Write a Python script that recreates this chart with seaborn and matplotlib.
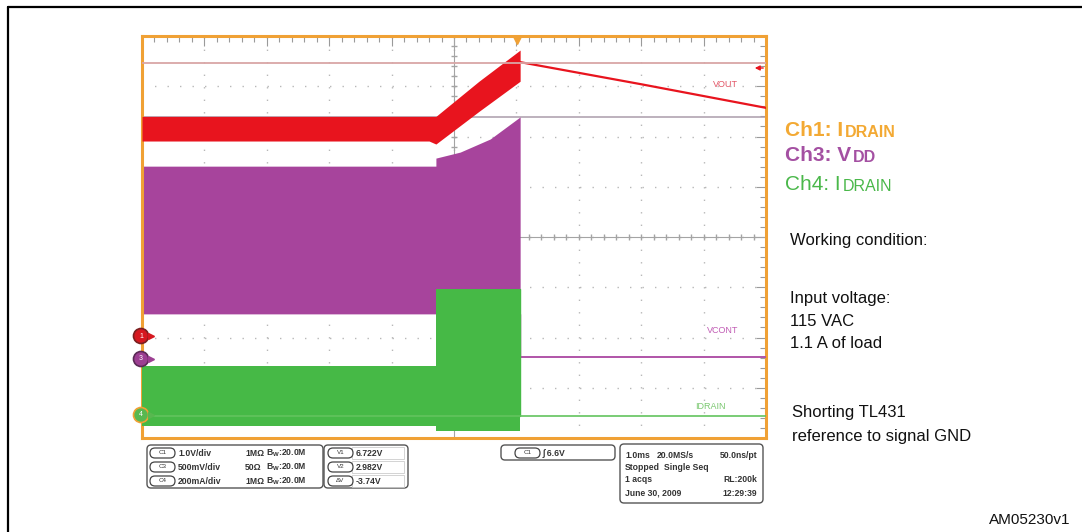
import numpy as np
import matplotlib.pyplot as plt
import seaborn as sns
from matplotlib.patches import FancyBboxPatch, Circle, Rectangle

W, H = 1082, 532

# traces in screen divisions (x: 10 div of 1.0 ms, y: 8 div centred on 0)
red_x = [0.0, 4.60, 4.71, 5.40, 6.06]
red_top = [2.40, 2.40, 2.40, 3.10, 3.72]
red_bot = [1.91, 1.91, 1.85, 2.50, 3.10]
vout_x = [6.06, 8.0, 10.0]
vout_y = [3.48, 3.04, 2.57]

vdd_x = [0.0, 4.71, 4.71, 5.10, 5.58, 6.06]
vdd_top = [1.41, 1.41, 1.57, 1.69, 1.95, 2.39]
vdd_bot = [-1.53, -1.53, -1.53, -1.53, -1.53, -1.53]
vcont_x = [6.06, 10.0]
vcont_y = [-2.39, -2.39]

id_x = [0.0, 4.71, 4.71, 6.06]
id_top = [-2.57, -2.57, -1.03, -1.03]
id_bot = [-3.76, -3.76, -3.86, -3.86]
idrain_x = [0.0, 6.06, 10.0]
idrain_y = [-3.56, -3.56, -3.56]

cursor_y = [3.46, 2.39]

red = '#e8141e'
purple = '#a7449c'
green = '#46b946'
orange = '#f0a135'

sns.set_style('white')
plt.rcParams['font.family'] = ['Liberation Sans', 'DejaVu Sans']

fig = plt.figure(figsize=(W / 100, H / 100), dpi=100)
ax = fig.add_axes([142 / W, 1 - 438 / H, 624 / W, 402 / H])

ax.fill_between(vdd_x, vdd_bot, vdd_top, color=purple, lw=0, zorder=2)
ax.fill_between(red_x, red_bot, red_top, color=red, lw=0, zorder=3)
ax.fill_between(id_x, id_bot, id_top, color=green, lw=0, zorder=4)
sns.lineplot(x=vout_x, y=vout_y, color=red, lw=1.6, ax=ax, zorder=3)
sns.lineplot(x=vcont_x, y=vcont_y, color='#b054a8', lw=1.4, ax=ax, zorder=3)
sns.lineplot(x=idrain_x, y=idrain_y, color='#62c35e', lw=1.2, ax=ax, zorder=5)
ax.plot([vcont_x[0], vcont_x[0]], [vcont_y[0], vdd_bot[-1]], color=purple, lw=1, zorder=2)
ax.plot([idrain_x[1], idrain_x[1]], [id_top[-1], idrain_y[1]], color=green, lw=1, zorder=4)

ax.axhline(cursor_y[0], color='#d9a6a6', lw=1.3, zorder=6)
ax.axhline(cursor_y[1], color='#ab9cab', lw=1.1, zorder=1.5)

ax.set_xlim(0, 10)
ax.set_ylim(-4, 4)
ax.set_xticks(np.arange(0, 11, 1))
ax.set_yticks(np.arange(-4, 5, 1))
ax.set_xticks(np.arange(0, 10.01, 0.2), minor=True)
ax.set_yticks(np.arange(-4, 4.01, 0.2), minor=True)
ax.set_xticklabels([])
ax.set_yticklabels([])
ax.tick_params(which='both', direction='in', top=True, right=True, color='#9a9a9a', width=0.8)
ax.tick_params(which='major', length=7)
ax.tick_params(which='minor', length=4)
ax.grid(True, which='major', color='#b8b8b8', lw=1.0, ls=(0, (1, 8)), zorder=1)
ax.axvline(5, color='#a4a4a4', lw=0.8, zorder=1)
ax.axhline(0, color='#a4a4a4', lw=0.8, zorder=1)
ax.plot(np.arange(0, 10.01, 0.2), np.zeros(51), ls='none', marker='|', ms=5, color='#a4a4a4', zorder=1)
ax.plot(np.full(41, 5.0), np.arange(-4, 4.01, 0.2), ls='none', marker='_', ms=5, color='#a4a4a4', zorder=1)
for s in ax.spines.values():
    s.set_color(orange)
    s.set_linewidth(2.2)

ax.text(9.15, 3.04, 'VOUT', color='#e25566', fontsize=6.5, ha='left', va='center', zorder=7)
ax.text(9.05, -1.87, 'VCONT', color='#c15db5', fontsize=6.5, ha='left', va='center', zorder=7)
ax.text(8.86, -3.38, 'IDRAIN', color='#7ac870', fontsize=6.5, ha='left', va='center', zorder=7)

# overlay in pixel coordinates for the scope furniture and side notes
ov = fig.add_axes([0, 0, 1, 1])
ov.set_xlim(0, W)
ov.set_ylim(H, 0)
ov.axis('off')
ov.patch.set_alpha(0)

ov.plot([8, 8], [7, H], color='black', lw=1.6)
ov.plot([8, W], [7, 7], color='black', lw=1.6)

ov.plot(517, 40, marker='v', color=orange, ms=6)
ov.annotate('', xy=(752, 68), xytext=(766, 68),
            arrowprops=dict(arrowstyle='-|>', color=red, lw=1, mutation_scale=7))

for cy, fc, ec, lab in [(336, '#d61820', '#7a2020', '1'), (359, '#9c3f92', '#5a2a55', '3'),
                        (415, '#58b850', orange, '4')]:
    ov.add_patch(Circle((141, cy), 7.5, fc=fc, ec=ec, lw=1.2, zorder=8))
    ov.text(141, cy, lab, color='white', fontsize=5, ha='center', va='center', zorder=9)
    ov.plot(151, cy, marker='>', color=fc, ms=5, zorder=8)


def box(x, y, w, h, r=4):
    ov.add_patch(FancyBboxPatch((x, y), w, h, boxstyle=f'round,pad=0,rounding_size={r}',
                                fc='white', ec='#555555', lw=1))


def pill(x, y, w, lab):
    ov.add_patch(FancyBboxPatch((x, y - 5), w, 10, boxstyle='round,pad=0,rounding_size=5',
                                fc='white', ec='#444444', lw=0.9))
    ov.text(x + w / 2, y, lab, fontsize=4.5, ha='center', va='center', color='#333333')


info = dict(fontsize=6.2, fontweight='bold', va='center', color='#333333')

box(147, 445, 176, 43)
for ry, ch, vd, imp in [(453, 'C1', '1.0V/div', '1MΩ'), (467, 'C3', '500mV/div', '50Ω'),
                        (481, 'C4', '200mA/div', '1MΩ')]:
    pill(150, ry, 25, ch)
    ov.text(178, ry, vd, **info)
    ov.text(245, ry, imp, **info)
    ov.text(266, ry, r'$\mathregular{B_W}$:20.0M', **info)

box(324, 445, 84, 43)
for ry, lab, val in [(453, 'V1', '6.722V'), (467, 'V2', '2.982V'), (481, 'ΔV', '-3.74V')]:
    ov.add_patch(Rectangle((352, ry - 6), 52, 12, fc='none', ec='#cccccc', lw=0.6))
    pill(328, ry, 25, lab)
    ov.text(356, ry, val, **info)

box(501, 445, 114, 15)
pill(515, 453, 25, 'C1')
ov.text(543, 453, '∫ 6.6V', **info)

box(620, 444, 143, 59)
ov.text(625, 455, '1.0ms', **info)
ov.text(657, 455, '20.0MS/s', **info)
ov.text(757, 455, '50.0ns/pt', ha='right', **info)
ov.text(625, 467, 'Stopped', **info)
ov.text(664, 467, 'Single Seq', **info)
ov.text(625, 480, '1 acqs', **info)
ov.text(757, 480, 'RL:200k', ha='right', **info)
ov.text(625, 493, 'June 30, 2009', **info)
ov.text(757, 493, '12:29:39', ha='right', **info)

# channel legend with small caps subscripts
for by, big, small, col, wt in [(136, 'Ch1: I', 'DRAIN', '#f3a933', 'bold'),
                                (161, 'Ch3: V', 'DD', '#a450a2', 'bold'),
                                (190, 'Ch4: I', 'DRAIN', '#4ab84a', 'normal')]:
    t = ov.text(785, by, big, color=col, fontsize=15, fontweight=wt, ha='left', va='baseline')
    ov.annotate(small, xy=(1, 0), xycoords=t, xytext=(1.5, 0), textcoords='offset points',
                color=col, fontsize=11.5, fontweight=wt, ha='left', va='bottom')

notes = dict(fontsize=12, color='#111111', ha='left', va='center')
ov.text(790, 241, 'Working condition:', **notes)
ov.text(790, 298, 'Input voltage:', **notes)
ov.text(790, 321, '115 VAC', **notes)
ov.text(790, 344, '1.1 A of load', **notes)
ov.text(792, 412, 'Shorting TL431', **notes)
ov.text(792, 436, 'reference to signal GND', **notes)
ov.text(1070, 520, 'AM05230v1', fontsize=11, color='#111111', ha='right', va='center')

fig.savefig('out.png', dpi=100, facecolor='white')
